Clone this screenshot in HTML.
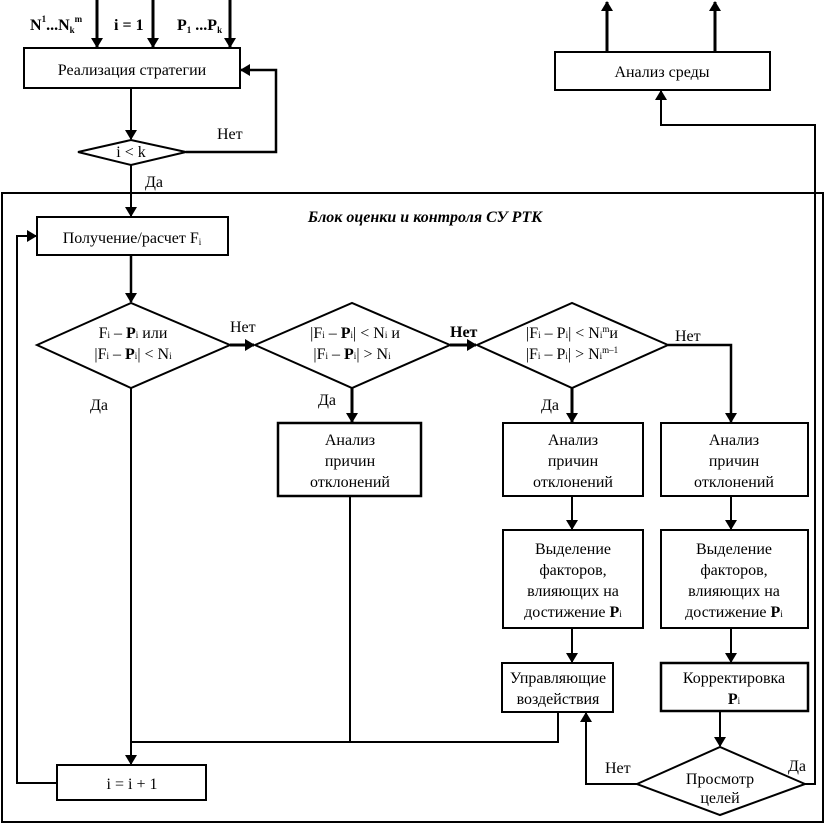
<!DOCTYPE html>
<html><head><meta charset="utf-8"><style>
body{margin:0;background:#fff}
svg{display:block}
text{font-family:"Liberation Serif",serif;font-size:16px;fill:#000}
.b{font-weight:bold}
</style></head><body>
<svg width="825" height="824" viewBox="0 0 825 824" xmlns="http://www.w3.org/2000/svg">
<defs><marker id="a" markerWidth="10" markerHeight="12" refX="9" refY="6" orient="auto" markerUnits="userSpaceOnUse"><path d="M0,0 L10,6 L0,12 z" fill="#000"/></marker></defs>
<g stroke="#000" fill="none" stroke-width="2">
<line x1="97" y1="0" x2="97" y2="47" stroke-width="3" marker-end="url(#a)"/>
<line x1="153" y1="0" x2="153" y2="47" stroke-width="3" marker-end="url(#a)"/>
<line x1="230" y1="0" x2="230" y2="47" stroke-width="3" marker-end="url(#a)"/>
<rect x="24" y="48" width="216" height="40"/>
<line x1="131" y1="88" x2="131" y2="139" marker-end="url(#a)"/>
<polygon points="78,152 131,140 186,152 131,165"/>
<polyline points="186,152 276,152 276,70 241,70" stroke-width="2.5" marker-end="url(#a)"/>
<line x1="131" y1="165" x2="131" y2="216" marker-end="url(#a)"/>
<rect x="555" y="52" width="215" height="38"/>
<line x1="607" y1="52" x2="607" y2="2" stroke-width="3" marker-end="url(#a)"/>
<line x1="715" y1="52" x2="715" y2="2" stroke-width="3" marker-end="url(#a)"/>
<polyline points="805,784 815,784 815,125 661,125 661,91" marker-end="url(#a)"/>
<rect x="2" y="193" width="821" height="629"/>
<rect x="37" y="217" width="191" height="38"/>
<polyline points="57,783 17,783 17,236 36,236" marker-end="url(#a)"/>
<line x1="131" y1="255" x2="131" y2="302" stroke-width="2.5" marker-end="url(#a)"/>
<polygon points="37,345 131,303 230,345 131,388"/>
<line x1="230" y1="345" x2="254" y2="345" stroke-width="3" marker-end="url(#a)"/>
<polygon points="255,345 352,303 450,345 352,388"/>
<line x1="450" y1="345" x2="476" y2="345" stroke-width="3" marker-end="url(#a)"/>
<polygon points="477,345 572,303 668,345 572,388"/>
<polyline points="668,345 731,345 731,422" stroke-width="2.5" marker-end="url(#a)"/>
<line x1="352" y1="388" x2="352" y2="422" stroke-width="3" marker-end="url(#a)"/>
<line x1="572" y1="388" x2="572" y2="422" stroke-width="3" marker-end="url(#a)"/>
<rect x="278" y="423" width="143" height="73" stroke-width="2.5"/>
<rect x="503" y="423" width="140" height="73"/>
<rect x="661" y="423" width="147" height="73"/>
<line x1="572" y1="496" x2="572" y2="529" marker-end="url(#a)"/>
<line x1="731" y1="496" x2="731" y2="529" marker-end="url(#a)"/>
<rect x="503" y="530" width="140" height="98"/>
<rect x="661" y="530" width="147" height="98"/>
<line x1="572" y1="628" x2="572" y2="662" marker-end="url(#a)"/>
<line x1="731" y1="628" x2="731" y2="662" marker-end="url(#a)"/>
<rect x="502" y="663" width="111" height="49"/>
<rect x="661" y="663" width="147" height="48" stroke-width="2.5"/>
<line x1="720" y1="711" x2="720" y2="746" marker-end="url(#a)"/>
<polygon points="637,784 720,747 805,784 720,815"/>
<polyline points="637,784 586,784 586,713" marker-end="url(#a)"/>
<line x1="350" y1="496" x2="350" y2="743"/>
<polyline points="558,712 558,742 131,742"/>
<line x1="131" y1="388" x2="131" y2="764" marker-end="url(#a)"/>
<rect x="57" y="765" width="149" height="35"/>
</g>
<g>
<text x="30" y="30" class="b" font-size="17">N<tspan font-size="9" dy="-8">1</tspan><tspan dy="8">...N</tspan><tspan font-size="9" dy="3">k</tspan><tspan font-size="9" dy="-11">m</tspan></text>
<text x="114" y="30" class="b" font-size="17">i = 1</text>
<text x="177" y="30" class="b" font-size="17">P<tspan font-size="9" dy="3">1</tspan><tspan dy="-3"> ...P</tspan><tspan font-size="9" dy="3">k</tspan></text>
<text x="132" y="75" text-anchor="middle" font-size="17">Реализация стратегии</text>
<text x="131" y="157" text-anchor="middle" font-size="13">i &lt; k</text>
<text x="217" y="139" font-size="17">Нет</text>
<text x="145" y="187" font-size="17">Да</text>
<text x="662" y="77" text-anchor="middle" font-size="17">Анализ среды</text>
<text x="425" y="222" text-anchor="middle" font-style="italic" font-weight="bold" font-size="17">Блок оценки и контроля СУ РТК</text>
<text x="132" y="243" text-anchor="middle" font-size="17">Получение/расчет F<tspan font-size="9" dy="2">i</tspan></text>
<text x="133" y="338" text-anchor="middle">F<tspan font-size="9">i</tspan> – <tspan font-weight="bold">P</tspan><tspan font-size="9">i</tspan> или</text>
<text x="133" y="359" text-anchor="middle">|F<tspan font-size="9">i</tspan> – <tspan font-weight="bold">P</tspan><tspan font-size="9">i</tspan>| &lt; N<tspan font-size="9">i</tspan></text>
<text x="230" y="332" font-size="17">Нет</text>
<text x="90" y="410" font-size="17">Да</text>
<text x="355" y="338" text-anchor="middle">|F<tspan font-size="9">i</tspan> – <tspan font-weight="bold">P</tspan><tspan font-size="9">i</tspan>| &lt; N<tspan font-size="9">i</tspan>  и</text>
<text x="352" y="359" text-anchor="middle">|F<tspan font-size="9">i</tspan> – <tspan font-weight="bold">P</tspan><tspan font-size="9">i</tspan>| &gt; N<tspan font-size="9">i</tspan></text>
<text x="450" y="337" class="b" font-size="17">Нет</text>
<text x="318" y="405" font-size="17">Да</text>
<text x="572" y="338" text-anchor="middle">|F<tspan font-size="9">i</tspan> – P<tspan font-size="9">i</tspan>| &lt; N<tspan font-size="9">i</tspan><tspan font-size="9" dy="-6">m</tspan><tspan dy="6">и</tspan></text>
<text x="572" y="359" text-anchor="middle">|F<tspan font-size="9">i</tspan> – P<tspan font-size="9">i</tspan>| &gt; N<tspan font-size="9">i</tspan><tspan font-size="9" dy="-6">m–1</tspan></text>
<text x="675" y="341" font-size="17">Нет</text>
<text x="541" y="410" font-size="17">Да</text>
<g text-anchor="middle" font-size="17">
<text x="350" y="445">Анализ</text><text x="350" y="466">причин</text><text x="350" y="487">отклонений</text>
<text x="573" y="445">Анализ</text><text x="573" y="466">причин</text><text x="573" y="487">отклонений</text>
<text x="734" y="445">Анализ</text><text x="734" y="466">причин</text><text x="734" y="487">отклонений</text>
<text x="573" y="554">Выделение</text><text x="573" y="575">факторов,</text><text x="573" y="596">влияющих на</text><text x="573" y="617">достижение <tspan font-weight="bold">P</tspan><tspan font-size="9">i</tspan></text>
<text x="734" y="554">Выделение</text><text x="734" y="575">факторов,</text><text x="734" y="596">влияющих на</text><text x="734" y="617">достижение <tspan font-weight="bold">P</tspan><tspan font-size="9">i</tspan></text>
<text x="558" y="683">Управляющие</text><text x="558" y="704">воздействия</text>
<text x="734" y="683">Корректировка</text><text x="734" y="704" font-weight="bold">P<tspan font-size="9" font-weight="normal">i</tspan></text>
<text x="720" y="784">Просмотр</text><text x="720" y="803">целей</text>
<text x="132" y="789">i = i + 1</text>
</g>
<text x="605" y="773" font-size="17">Нет</text>
<text x="788" y="771" font-size="17">Да</text>
</g>
</svg>
</body></html>
